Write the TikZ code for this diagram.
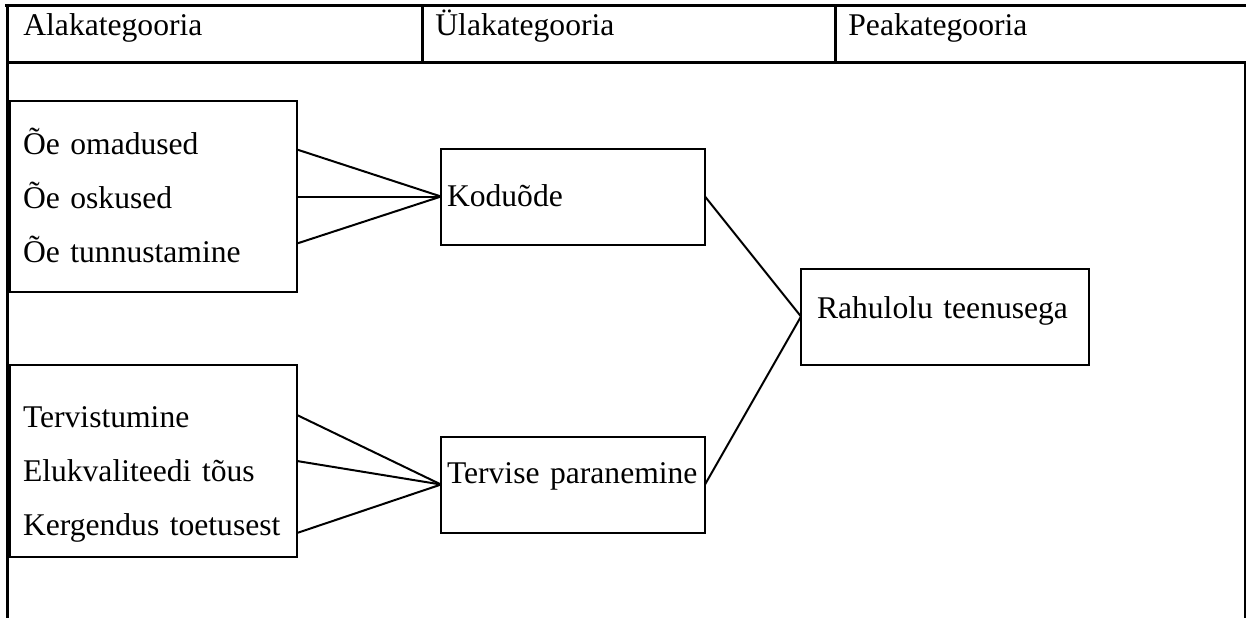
\documentclass[tikz,border=0pt]{standalone}
\usepackage{fontspec}
\setmainfont{Liberation Serif}
\usetikzlibrary{positioning}

\begin{document}
\begin{tikzpicture}[
    x=0.5pt, y=-0.5pt,
    font=\fontsize{15.8pt}{27pt}\selectfont,
    frame/.style={line width=1.5pt},
    link/.style={draw, line width=1pt},
    head/.style={anchor=base west, inner sep=0pt},
    catbox/.style={draw, line width=1pt, align=left, inner ysep=0pt, outer sep=0pt},
    subbox/.style={catbox, text width=130.5pt, inner xsep=6.5pt},
    upbox/.style={catbox, text width=126pt, inner xsep=3pt}
]

\useasboundingbox (0,0) rectangle (1246,618);

% table frame
\draw[frame] (5,5) -- (1246,5);
\draw[frame] (7,5) -- (7,618);
\draw[frame] (7,62) -- (1246,62);
\draw[frame] (1245,62) -- (1245,618);
\draw[frame] (422,5) -- (422,62);
\draw[frame] (835,5) -- (835,62);

\node[head] (ala) at (23,35) {Alakategooria};
\node[head] (ula) at (435,35) {Ülakategooria};
\node[head] (pea) at (848,35) {Peakategooria};

% categories
\node[subbox, text height=26.5pt, text depth=69pt, anchor=north west] (grpA) at (10,101)
    {Õe omadused\\Õe oskused\\Õe tunnustamine};
\node[subbox, text height=31pt, text depth=65pt, below=36.5pt of grpA] (grpB)
    {Tervistumine\\Elukvaliteedi tõus\\Kergendus toetusest};
\node[upbox, text height=29pt, text depth=19pt, right=72pt of grpA] (kodu) {Koduõde};
\node[upbox, text height=23.5pt, text depth=24.5pt, below=96pt of kodu] (terv) {\mbox{Tervise paranemine}};
\node[catbox, text width=128pt, inner xsep=8pt, text height=25pt, text depth=23pt,
    below right=12pt and 48pt of kodu] (rahul) {Rahulolu teenusega};

\path[link]
    ([yshift=23.5pt]grpA.east) edge (kodu.west)
    (grpA.east) edge (kodu.west)
    ([yshift=-23.5pt]grpA.east) edge (kodu.west)
    ([yshift=23pt]grpB.east) edge (terv.west)
    (grpB.east) edge (terv.west)
    ([yshift=-36pt]grpB.east) edge (terv.west)
    (kodu.east) edge (rahul.west)
    (terv.east) edge (rahul.west);

\end{tikzpicture}
\end{document}
